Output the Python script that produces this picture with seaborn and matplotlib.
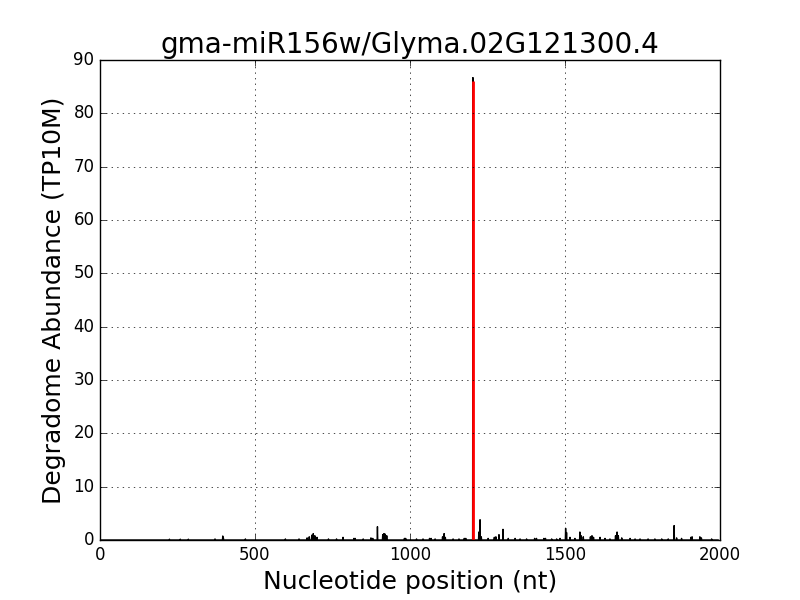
import numpy as np
import pandas as pd
import matplotlib
matplotlib.use("Agg")
import matplotlib.pyplot as plt
import seaborn as sns

plt.style.use("classic")

# Degradome profile: positions (nt) with non-zero abundance (TP10M)
positions = [224, 259, 285, 371, 396, 398, 469, 598, 642, 668, 675, 683, 688, 693,
             700, 737, 763, 784, 819, 823, 849, 874, 880, 895, 912, 916, 920, 925,
             982, 986, 1021, 1042, 1063, 1068, 1081, 1105, 1110, 1114, 1139, 1158,
             1175, 1180, 1203, 1222, 1226, 1230, 1252, 1272, 1277, 1287, 1300, 1317,
             1339, 1355, 1376, 1402, 1408, 1432, 1437, 1457, 1473, 1484, 1502, 1505,
             1516, 1532, 1548, 1552, 1559, 1582, 1587, 1592, 1613, 1629, 1645, 1663,
             1668, 1672, 1683, 1710, 1726, 1742, 1768, 1790, 1812, 1833, 1852, 1860,
             1876, 1906, 1910, 1935, 1940, 1973]
abundance = [0.15, 0.15, 0.15, 0.2, 0.75, 0.4, 0.2, 0.2, 0.2, 0.4, 0.6, 0.9, 1.2, 0.8,
             0.5, 0.2, 0.2, 0.5, 0.3, 0.3, 0.2, 0.4, 0.3, 2.5, 1.0, 1.2, 1.1, 0.8,
             0.3, 0.3, 0.2, 0.2, 0.3, 0.3, 0.2, 0.6, 1.2, 0.5, 0.2, 0.2,
             0.3, 0.3, 86.7, 1.5, 3.8, 0.6, 0.3, 0.5, 0.6, 1.0, 2.0, 0.3,
             0.3, 0.2, 0.2, 0.3, 0.3, 0.3, 0.3, 0.2, 0.2, 0.3, 2.2, 1.4,
             0.5, 0.3, 1.5, 0.8, 0.6, 0.6, 0.8, 0.5, 0.5, 0.3, 0.2, 0.8,
             1.5, 0.8, 0.4, 0.3, 0.2, 0.2, 0.2, 0.2, 0.2, 0.2, 2.7, 0.4,
             0.3, 0.5, 0.6, 0.6, 0.4, 0.2]

# Predicted cleavage site
cleavage_pos = 1203
cleavage_abund = 86

title = "gma-miR156w/Glyma.02G121300.4"

# Build full per-nucleotide profile
nt = np.arange(0, 1995)
profile = np.zeros(len(nt))
profile[positions] = abundance
df = pd.DataFrame({"pos": nt, "abund": profile})

fig, ax = plt.subplots(figsize=(8, 6), dpi=100)
sns.lineplot(data=df, x="pos", y="abund", color="k", lw=1,
             estimator=None, ax=ax)
ax.vlines(cleavage_pos, 0, cleavage_abund, color="r", lw=2)

ax.set_xlim(0, 2000)
ax.set_ylim(0, 90)
ax.grid(True)
ax.set_title(title, fontsize=20)
ax.set_xlabel("Nucleotide position (nt)", fontsize=18)
ax.set_ylabel("Degradome Abundance (TP10M)", fontsize=18)

fig.savefig("out.png", dpi=100)
